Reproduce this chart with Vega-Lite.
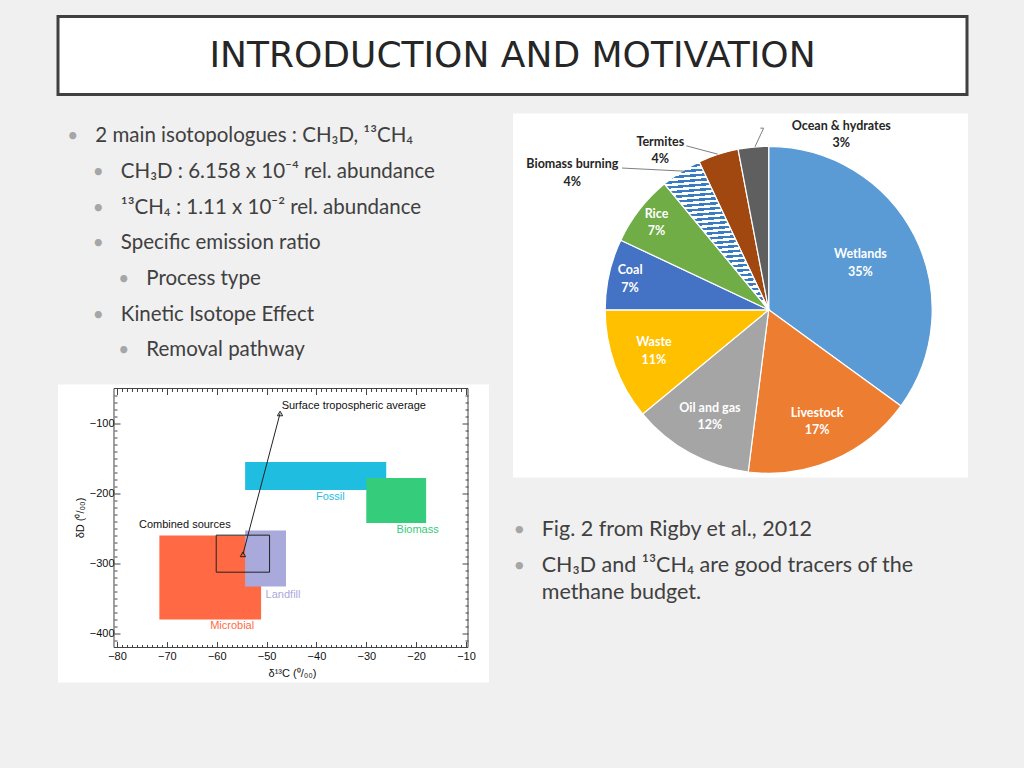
{
  "$schema": "https://vega.github.io/schema/vega-lite/v6.json",
  "background": "#f0f0f0",
  "padding": {"left": 56, "top": 14.5, "right": 57, "bottom": 86},
  "bounds": "flush",
  "spacing": 19,
  "resolve": {"scale": {"color": "independent"}},
  "config": {"view": {"stroke": null}},
  "datasets": {
    "leftText": [
      {"line": 1, "level": 1, "text": "2 main isotopologues : CH₃D, ¹³CH₄"},
      {"line": 2, "level": 2, "text": "CH₃D : 6.158 x 10⁻⁴ rel. abundance"},
      {"line": 3, "level": 2, "text": "¹³CH₄ : 1.11 x 10⁻² rel. abundance"},
      {"line": 4, "level": 2, "text": "Specific emission ratio"},
      {"line": 5, "level": 3, "text": "Process type"},
      {"line": 6, "level": 2, "text": "Kinetic Isotope Effect"},
      {"line": 7, "level": 3, "text": "Removal pathway"}
    ],
    "rightText": [
      {"line": 1, "level": 1, "text": "Fig. 2 from Rigby et al., 2012"},
      {"line": 2, "level": 1, "text": "CH₃D and ¹³CH₄ are good tracers of the\nmethane budget."}
    ],
    "regions": [
      {"source": "Fossil", "x1": -54.3, "x2": -26, "y1": -195, "y2": -155},
      {"source": "Biomass", "x1": -30, "x2": -18, "y1": -242, "y2": -178},
      {"source": "Microbial", "x1": -71.5, "x2": -51.1, "y1": -380, "y2": -260},
      {"source": "Landfill", "x1": -54.3, "x2": -46.1, "y1": -333, "y2": -253}
    ],
    "combined": [{"x1": -60.1, "x2": -49.4, "y1": -312.4, "y2": -259.5}],
    "track": [
      {"point": "Combined sources", "seq": 1, "x": -54.75, "y": -287},
      {"point": "Surface tropospheric average", "seq": 2, "x": -47.3, "y": -85.7}
    ],
    "scatterLabels": [
      {"label": "Surface tropospheric average", "x": -32.5, "y": -75.3},
      {"label": "Fossil", "x": -37.2, "y": -205.3},
      {"label": "Biomass", "x": -19.7, "y": -252.4},
      {"label": "Combined sources", "x": -66.4, "y": -245.3},
      {"label": "Landfill", "x": -46.7, "y": -344.3},
      {"label": "Microbial", "x": -56.9, "y": -389.6}
    ],
    "pie": [
      {"idx": 1, "source": "Wetlands", "share": 0.35},
      {"idx": 2, "source": "Livestock", "share": 0.17},
      {"idx": 3, "source": "Oil and gas", "share": 0.12},
      {"idx": 4, "source": "Waste", "share": 0.11},
      {"idx": 5, "source": "Coal", "share": 0.07},
      {"idx": 6, "source": "Rice", "share": 0.07},
      {"idx": 7, "source": "Biomass burning", "share": 0.04},
      {"idx": 8, "source": "Termites", "share": 0.04},
      {"idx": 9, "source": "Ocean & hydrates", "share": 0.03}
    ],
    "pieOuter": [
      {"source": "Ocean & hydrates", "share": 0.03, "x": 0.444, "y": 1.072},
      {"source": "Termites", "share": 0.04, "x": -0.663, "y": 0.974},
      {"source": "Biomass burning", "share": 0.04, "x": -1.201, "y": 0.837}
    ],
    "leaders": [
      {"leader": "ocean", "seq": 1, "x": -0.051, "y": 1.111},
      {"leader": "ocean", "seq": 2, "x": -0.031, "y": 1.111},
      {"leader": "ocean", "seq": 3, "x": -0.084, "y": 0.997},
      {"leader": "termites", "seq": 1, "x": -0.504, "y": 1.003},
      {"leader": "termites", "seq": 2, "x": -0.312, "y": 0.952},
      {"leader": "biomass", "seq": 1, "x": -0.897, "y": 0.867},
      {"leader": "biomass", "seq": 2, "x": -0.518, "y": 0.848}
    ]
  },
  "vconcat": [
    {
      "width": 909,
      "height": 78,
      "view": {"fill": "white", "stroke": "#404040", "strokeWidth": 3},
      "data": {"values": [{"title": "INTRODUCTION AND MOTIVATION"}]},
      "mark": {"type": "text", "font": "DejaVu Sans", "fontSize": 36, "color": "#262626", "baseline": "middle", "align": "center"},
      "encoding": {"text": {"field": "title"}}
    },
    {
      "resolve": {"scale": {"color": "independent"}},
      "hconcat": [
        {
          "resolve": {"scale": {"color": "independent"}},
          "vconcat": [
            {
              "width": 431,
              "height": 265,
              "data": {"name": "leftText"},
              "encoding": {
                "x": {"field": "level", "type": "quantitative", "scale": {"domain": [-0.463, 16.44], "nice": false, "zero": false}, "axis": null},
                "y": {"field": "line", "type": "quantitative", "scale": {"domain": [0.196, 7.619], "reverse": true, "nice": false, "zero": false}, "axis": null}
              },
              "layer": [
                {
                  "mark": {"type": "text", "align": "center", "baseline": "alphabetic", "dx": -22.5, "font": "Lato", "fontSize": 19, "color": "#a6a6a6"},
                  "encoding": {"text": {"value": "•"}}
                },
                {
                  "mark": {"type": "text", "align": "left", "baseline": "alphabetic", "font": "Lato", "fontSize": 20.5, "color": "#404040"},
                  "encoding": {"text": {"field": "text"}}
                }
              ]
            },
            {
              "width": 431,
              "height": 298,
              "view": {"fill": "white", "stroke": null},
              "resolve": {"axis": {"x": "independent", "y": "independent"}},
              "layer": [
                {
                  "data": {"name": "regions"},
                  "mark": {"type": "rect"},
                  "encoding": {
                    "x": {"field": "x1", "type": "quantitative", "scale": {"domain": [-91.83, -5.39], "nice": false, "zero": false},
                      "axis": {"orient": "bottom", "offset": -35, "domain": false, "grid": false,
                        "values": [-80,-79,-78,-77,-76,-75,-74,-73,-72,-71,-70,-69,-68,-67,-66,-65,-64,-63,-62,-61,-60,-59,-58,-57,-56,-55,-54,-53,-52,-51,-50,-49,-48,-47,-46,-45,-44,-43,-42,-41,-40,-39,-38,-37,-36,-35,-34,-33,-32,-31,-30,-29,-28,-27,-26,-25,-24,-23,-22,-21,-20,-19,-18,-17,-16,-15,-14,-13,-12,-11,-10],
                        "tickSize": {"condition": {"test": "datum.value % 10 === 0", "value": -6}, "value": -3},
                        "tickColor": "#444", "tickWidth": 1,
                        "labelExpr": "datum.value % 10 === 0 ? datum.label : ''",
                        "labelOverlap": false, "labelFlush": false,
                        "labelFont": "Liberation Sans", "labelFontSize": 11, "labelColor": "#111", "labelPadding": 9,
                        "title": "δ¹³C (⁰/₀₀)", "titleFont": "Liberation Sans", "titleFontSize": 11, "titleFontWeight": "normal", "titleColor": "#111", "titlePadding": 3, "titleX": 234, "zindex": 1}},
                    "x2": {"field": "x2"},
                    "y": {"field": "y1", "type": "quantitative", "scale": {"domain": [-470, -44.3], "nice": false, "zero": false},
                      "axis": {"orient": "left", "offset": -56, "domain": false, "grid": false,
                        "values": [-410,-400,-390,-380,-370,-360,-350,-340,-330,-320,-310,-300,-290,-280,-270,-260,-250,-240,-230,-220,-210,-200,-190,-180,-170,-160,-150,-140,-130,-120,-110,-100,-90,-80,-70,-60],
                        "tickSize": {"condition": {"test": "datum.value % 100 === 0", "value": -6}, "value": -3},
                        "tickColor": "#444", "tickWidth": 1,
                        "labelExpr": "datum.value % 100 === 0 ? datum.label : ''",
                        "labelOverlap": false, "labelFlush": false,
                        "labelFont": "Liberation Sans", "labelFontSize": 11, "labelColor": "#111", "labelPadding": 6,
                        "title": "δD (⁰/₀₀)", "titleFont": "Liberation Sans", "titleFontSize": 11, "titleFontWeight": "normal", "titleColor": "#111", "titlePadding": 4, "titleY": 133, "zindex": 1}},
                    "y2": {"field": "y2"},
                    "color": {"field": "source", "type": "nominal", "legend": null,
                      "scale": {"domain": ["Fossil", "Biomass", "Microbial", "Landfill", "Combined sources", "Surface tropospheric average"],
                        "range": ["#1fbde0", "#35cc7b", "#ff6a45", "#a9a9dc", "#111111", "#111111"]}}
                  }
                },
                {
                  "data": {"values": [{}]},
                  "mark": {"type": "rect", "filled": false, "stroke": "#444", "strokeWidth": 1},
                  "encoding": {
                    "x": {"datum": -80.6, "type": "quantitative",
                      "axis": {"orient": "top", "offset": -4, "domain": false, "grid": false, "labels": false, "title": null,
                        "values": [-80,-79,-78,-77,-76,-75,-74,-73,-72,-71,-70,-69,-68,-67,-66,-65,-64,-63,-62,-61,-60,-59,-58,-57,-56,-55,-54,-53,-52,-51,-50,-49,-48,-47,-46,-45,-44,-43,-42,-41,-40,-39,-38,-37,-36,-35,-34,-33,-32,-31,-30,-29,-28,-27,-26,-25,-24,-23,-22,-21,-20,-19,-18,-17,-16,-15,-14,-13,-12,-11,-10],
                        "tickSize": {"condition": {"test": "datum.value % 10 === 0", "value": -6}, "value": -3},
                        "tickColor": "#444", "tickWidth": 1, "zindex": 1}},
                    "x2": {"datum": -9.6},
                    "y": {"datum": -420, "type": "quantitative",
                      "axis": {"orient": "right", "offset": -21, "domain": false, "grid": false, "labels": false, "title": null,
                        "values": [-410,-400,-390,-380,-370,-360,-350,-340,-330,-320,-310,-300,-290,-280,-270,-260,-250,-240,-230,-220,-210,-200,-190,-180,-170,-160,-150,-140,-130,-120,-110,-100,-90,-80,-70,-60],
                        "tickSize": {"condition": {"test": "datum.value % 100 === 0", "value": -6}, "value": -3},
                        "tickColor": "#444", "tickWidth": 1, "zindex": 1}},
                    "y2": {"datum": -50}
                  }
                },
                {
                  "data": {"name": "combined"},
                  "mark": {"type": "rect", "filled": false, "stroke": "#222", "strokeWidth": 1},
                  "encoding": {
                    "x": {"field": "x1", "type": "quantitative", "axis": null},
                    "x2": {"field": "x2"},
                    "y": {"field": "y1", "type": "quantitative", "axis": null},
                    "y2": {"field": "y2"}
                  }
                },
                {
                  "data": {"name": "track"},
                  "mark": {"type": "line", "color": "#222", "strokeWidth": 1},
                  "encoding": {
                    "x": {"field": "x", "type": "quantitative", "axis": null},
                    "y": {"field": "y", "type": "quantitative", "axis": null},
                    "order": {"field": "seq"}
                  }
                },
                {
                  "data": {"name": "track"},
                  "mark": {"type": "point", "shape": "triangle-up", "filled": false, "size": 28, "color": "#222", "strokeWidth": 1, "opacity": 1},
                  "encoding": {
                    "x": {"field": "x", "type": "quantitative", "axis": null},
                    "y": {"field": "y", "type": "quantitative", "axis": null}
                  }
                },
                {
                  "data": {"name": "scatterLabels"},
                  "mark": {"type": "text", "font": "Liberation Sans", "fontSize": 11, "align": "center", "baseline": "middle"},
                  "encoding": {
                    "x": {"field": "x", "type": "quantitative", "axis": null},
                    "y": {"field": "y", "type": "quantitative", "axis": null},
                    "text": {"field": "label"},
                    "color": {"field": "label", "type": "nominal", "legend": null}
                  }
                }
              ]
            }
          ],
          "spacing": 6,
          "bounds": "flush"
        },
        {
          "resolve": {"scale": {"color": "independent"}},
          "vconcat": [
            {
              "width": 455,
              "height": 364,
              "view": {"fill": "white", "stroke": null},
              "layer": [
                {
                  "data": {"name": "pie"},
                  "mark": {"type": "arc", "outerRadius": 163.5, "stroke": "white", "strokeWidth": 1.2},
                  "encoding": {
                    "theta": {"field": "share", "type": "quantitative", "stack": true},
                    "order": {"field": "idx"},
                    "color": {"field": "source", "type": "nominal", "legend": null, "sort": null,
                      "scale": {"domain": ["Wetlands", "Livestock", "Oil and gas", "Waste", "Coal", "Rice", "Biomass burning", "Termites", "Ocean & hydrates"],
                        "range": ["#5b9bd5", "#ed7d31", "#a5a5a5", "#ffc000", "#4472c4", "#70ad47", "#9dc3e6", "#a0480f", "#5f5f5f"]}},
                    "x": {"datum": 0, "type": "quantitative", "scale": {"domain": [-1.5639, 1.219], "nice": false, "zero": false}, "axis": null},
                    "y": {"datum": 0, "type": "quantitative", "scale": {"domain": [-1.0257, 1.2006], "nice": false, "zero": false}, "axis": null}
                  }
                },
                {
                  "data": {"name": "pie"},
                  "mark": {"type": "arc", "outerRadius": 163.5, "stroke": "white", "strokeWidth": 1.2,
                    "fill": {"gradient": "linear", "x1": 0, "y1": 0, "x2": 0.06, "y2": 1, "stops": [
                      {"offset": 0, "color": "#3a7cc2"}, {"offset": 0.0167, "color": "#3a7cc2"},
                      {"offset": 0.0167, "color": "#ffffff"}, {"offset": 0.0333, "color": "#ffffff"},
                      {"offset": 0.0333, "color": "#3a7cc2"}, {"offset": 0.05, "color": "#3a7cc2"},
                      {"offset": 0.05, "color": "#ffffff"}, {"offset": 0.0667, "color": "#ffffff"},
                      {"offset": 0.0667, "color": "#3a7cc2"}, {"offset": 0.0833, "color": "#3a7cc2"},
                      {"offset": 0.0833, "color": "#ffffff"}, {"offset": 0.1, "color": "#ffffff"},
                      {"offset": 0.1, "color": "#3a7cc2"}, {"offset": 0.1167, "color": "#3a7cc2"},
                      {"offset": 0.1167, "color": "#ffffff"}, {"offset": 0.1333, "color": "#ffffff"},
                      {"offset": 0.1333, "color": "#3a7cc2"}, {"offset": 0.15, "color": "#3a7cc2"},
                      {"offset": 0.15, "color": "#ffffff"}, {"offset": 0.1667, "color": "#ffffff"},
                      {"offset": 0.1667, "color": "#3a7cc2"}, {"offset": 0.1833, "color": "#3a7cc2"},
                      {"offset": 0.1833, "color": "#ffffff"}, {"offset": 0.2, "color": "#ffffff"},
                      {"offset": 0.2, "color": "#3a7cc2"}, {"offset": 0.2167, "color": "#3a7cc2"},
                      {"offset": 0.2167, "color": "#ffffff"}, {"offset": 0.2333, "color": "#ffffff"},
                      {"offset": 0.2333, "color": "#3a7cc2"}, {"offset": 0.25, "color": "#3a7cc2"},
                      {"offset": 0.25, "color": "#ffffff"}, {"offset": 0.2667, "color": "#ffffff"},
                      {"offset": 0.2667, "color": "#3a7cc2"}, {"offset": 0.2833, "color": "#3a7cc2"},
                      {"offset": 0.2833, "color": "#ffffff"}, {"offset": 0.3, "color": "#ffffff"},
                      {"offset": 0.3, "color": "#3a7cc2"}, {"offset": 0.3167, "color": "#3a7cc2"},
                      {"offset": 0.3167, "color": "#ffffff"}, {"offset": 0.3333, "color": "#ffffff"},
                      {"offset": 0.3333, "color": "#3a7cc2"}, {"offset": 0.35, "color": "#3a7cc2"},
                      {"offset": 0.35, "color": "#ffffff"}, {"offset": 0.3667, "color": "#ffffff"},
                      {"offset": 0.3667, "color": "#3a7cc2"}, {"offset": 0.3833, "color": "#3a7cc2"},
                      {"offset": 0.3833, "color": "#ffffff"}, {"offset": 0.4, "color": "#ffffff"},
                      {"offset": 0.4, "color": "#3a7cc2"}, {"offset": 0.4167, "color": "#3a7cc2"},
                      {"offset": 0.4167, "color": "#ffffff"}, {"offset": 0.4333, "color": "#ffffff"},
                      {"offset": 0.4333, "color": "#3a7cc2"}, {"offset": 0.45, "color": "#3a7cc2"},
                      {"offset": 0.45, "color": "#ffffff"}, {"offset": 0.4667, "color": "#ffffff"},
                      {"offset": 0.4667, "color": "#3a7cc2"}, {"offset": 0.4833, "color": "#3a7cc2"},
                      {"offset": 0.4833, "color": "#ffffff"}, {"offset": 0.5, "color": "#ffffff"},
                      {"offset": 0.5, "color": "#3a7cc2"}, {"offset": 0.5167, "color": "#3a7cc2"},
                      {"offset": 0.5167, "color": "#ffffff"}, {"offset": 0.5333, "color": "#ffffff"},
                      {"offset": 0.5333, "color": "#3a7cc2"}, {"offset": 0.55, "color": "#3a7cc2"},
                      {"offset": 0.55, "color": "#ffffff"}, {"offset": 0.5667, "color": "#ffffff"},
                      {"offset": 0.5667, "color": "#3a7cc2"}, {"offset": 0.5833, "color": "#3a7cc2"},
                      {"offset": 0.5833, "color": "#ffffff"}, {"offset": 0.6, "color": "#ffffff"},
                      {"offset": 0.6, "color": "#3a7cc2"}, {"offset": 0.6167, "color": "#3a7cc2"},
                      {"offset": 0.6167, "color": "#ffffff"}, {"offset": 0.6333, "color": "#ffffff"},
                      {"offset": 0.6333, "color": "#3a7cc2"}, {"offset": 0.65, "color": "#3a7cc2"},
                      {"offset": 0.65, "color": "#ffffff"}, {"offset": 0.6667, "color": "#ffffff"},
                      {"offset": 0.6667, "color": "#3a7cc2"}, {"offset": 0.6833, "color": "#3a7cc2"},
                      {"offset": 0.6833, "color": "#ffffff"}, {"offset": 0.7, "color": "#ffffff"},
                      {"offset": 0.7, "color": "#3a7cc2"}, {"offset": 0.7167, "color": "#3a7cc2"},
                      {"offset": 0.7167, "color": "#ffffff"}, {"offset": 0.7333, "color": "#ffffff"},
                      {"offset": 0.7333, "color": "#3a7cc2"}, {"offset": 0.75, "color": "#3a7cc2"},
                      {"offset": 0.75, "color": "#ffffff"}, {"offset": 0.7667, "color": "#ffffff"},
                      {"offset": 0.7667, "color": "#3a7cc2"}, {"offset": 0.7833, "color": "#3a7cc2"},
                      {"offset": 0.7833, "color": "#ffffff"}, {"offset": 0.8, "color": "#ffffff"},
                      {"offset": 0.8, "color": "#3a7cc2"}, {"offset": 0.8167, "color": "#3a7cc2"},
                      {"offset": 0.8167, "color": "#ffffff"}, {"offset": 0.8333, "color": "#ffffff"},
                      {"offset": 0.8333, "color": "#3a7cc2"}, {"offset": 0.85, "color": "#3a7cc2"},
                      {"offset": 0.85, "color": "#ffffff"}, {"offset": 0.8667, "color": "#ffffff"},
                      {"offset": 0.8667, "color": "#3a7cc2"}, {"offset": 0.8833, "color": "#3a7cc2"},
                      {"offset": 0.8833, "color": "#ffffff"}, {"offset": 0.9, "color": "#ffffff"},
                      {"offset": 0.9, "color": "#3a7cc2"}, {"offset": 0.9167, "color": "#3a7cc2"},
                      {"offset": 0.9167, "color": "#ffffff"}, {"offset": 0.9333, "color": "#ffffff"},
                      {"offset": 0.9333, "color": "#3a7cc2"}, {"offset": 0.95, "color": "#3a7cc2"},
                      {"offset": 0.95, "color": "#ffffff"}, {"offset": 0.9667, "color": "#ffffff"},
                      {"offset": 0.9667, "color": "#3a7cc2"}, {"offset": 0.9833, "color": "#3a7cc2"},
                      {"offset": 0.9833, "color": "#ffffff"}, {"offset": 1, "color": "#ffffff"}
                    ]}},
                  "encoding": {
                    "theta": {"field": "share", "type": "quantitative", "stack": true},
                    "order": {"field": "idx"},
                    "detail": {"field": "source"},
                    "opacity": {"condition": {"test": "datum.source === 'Biomass burning'", "value": 1}, "value": 0},
                    "x": {"datum": 0, "type": "quantitative"},
                    "y": {"datum": 0, "type": "quantitative"}
                  }
                },
                {
                  "data": {"name": "pie"},
                  "mark": {"type": "text", "radius": 103, "dy": -8.7, "font": "Lato", "fontSize": 12.5, "fontWeight": "bold", "color": "white"},
                  "encoding": {
                    "theta": {"field": "share", "type": "quantitative", "stack": true},
                    "order": {"field": "idx"}, "detail": {"field": "source"},
                    "x": {"datum": 0, "type": "quantitative"}, "y": {"datum": 0, "type": "quantitative"},
                    "text": {"condition": {"test": "datum.share > 0.3", "field": "source"}, "value": ""}
                  }
                },
                {
                  "data": {"name": "pie"},
                  "mark": {"type": "text", "radius": 103, "dy": 8.7, "font": "Lato", "fontSize": 12.5, "fontWeight": "bold", "color": "white"},
                  "encoding": {
                    "theta": {"field": "share", "type": "quantitative", "stack": true},
                    "order": {"field": "idx"}, "detail": {"field": "source"},
                    "x": {"datum": 0, "type": "quantitative"}, "y": {"datum": 0, "type": "quantitative"},
                    "text": {"condition": {"test": "datum.share > 0.3", "field": "share", "type": "quantitative", "format": ".0%"}, "value": ""}
                  }
                },
                {
                  "data": {"name": "pie"},
                  "mark": {"type": "text", "radius": 122, "dy": -8.7, "font": "Lato", "fontSize": 12.5, "fontWeight": "bold", "color": "white"},
                  "encoding": {
                    "theta": {"field": "share", "type": "quantitative", "stack": true},
                    "order": {"field": "idx"}, "detail": {"field": "source"},
                    "x": {"datum": 0, "type": "quantitative"}, "y": {"datum": 0, "type": "quantitative"},
                    "text": {"condition": {"test": "datum.share > 0.09 && datum.share < 0.3", "field": "source"}, "value": ""}
                  }
                },
                {
                  "data": {"name": "pie"},
                  "mark": {"type": "text", "radius": 122, "dy": 8.7, "font": "Lato", "fontSize": 12.5, "fontWeight": "bold", "color": "white"},
                  "encoding": {
                    "theta": {"field": "share", "type": "quantitative", "stack": true},
                    "order": {"field": "idx"}, "detail": {"field": "source"},
                    "x": {"datum": 0, "type": "quantitative"}, "y": {"datum": 0, "type": "quantitative"},
                    "text": {"condition": {"test": "datum.share > 0.09 && datum.share < 0.3", "field": "share", "type": "quantitative", "format": ".0%"}, "value": ""}
                  }
                },
                {
                  "data": {"name": "pie"},
                  "mark": {"type": "text", "radius": 142, "dy": -8.7, "font": "Lato", "fontSize": 12.5, "fontWeight": "bold", "color": "white"},
                  "encoding": {
                    "theta": {"field": "share", "type": "quantitative", "stack": true},
                    "order": {"field": "idx"}, "detail": {"field": "source"},
                    "x": {"datum": 0, "type": "quantitative"}, "y": {"datum": 0, "type": "quantitative"},
                    "text": {"condition": {"test": "datum.share > 0.05 && datum.share < 0.09", "field": "source"}, "value": ""}
                  }
                },
                {
                  "data": {"name": "pie"},
                  "mark": {"type": "text", "radius": 142, "dy": 8.7, "font": "Lato", "fontSize": 12.5, "fontWeight": "bold", "color": "white"},
                  "encoding": {
                    "theta": {"field": "share", "type": "quantitative", "stack": true},
                    "order": {"field": "idx"}, "detail": {"field": "source"},
                    "x": {"datum": 0, "type": "quantitative"}, "y": {"datum": 0, "type": "quantitative"},
                    "text": {"condition": {"test": "datum.share > 0.05 && datum.share < 0.09", "field": "share", "type": "quantitative", "format": ".0%"}, "value": ""}
                  }
                },
                {
                  "data": {"name": "leaders"},
                  "mark": {"type": "line", "color": "#7f7f7f", "strokeWidth": 1},
                  "encoding": {
                    "x": {"field": "x", "type": "quantitative"},
                    "y": {"field": "y", "type": "quantitative"},
                    "detail": {"field": "leader"},
                    "order": {"field": "seq"}
                  }
                },
                {
                  "data": {"name": "pieOuter"},
                  "mark": {"type": "text", "dy": -8.7, "font": "Lato", "fontSize": 12.5, "fontWeight": "bold", "color": "#262626"},
                  "encoding": {
                    "x": {"field": "x", "type": "quantitative"},
                    "y": {"field": "y", "type": "quantitative"},
                    "text": {"field": "source"}
                  }
                },
                {
                  "data": {"name": "pieOuter"},
                  "mark": {"type": "text", "dy": 8.7, "font": "Lato", "fontSize": 12.5, "fontWeight": "bold", "color": "#262626"},
                  "encoding": {
                    "x": {"field": "x", "type": "quantitative"},
                    "y": {"field": "y", "type": "quantitative"},
                    "text": {"field": "share", "type": "quantitative", "format": ".0%"}
                  }
                }
              ]
            },
            {
              "width": 455,
              "height": 150,
              "data": {"name": "rightText"},
              "encoding": {
                "x": {"field": "level", "type": "quantitative", "scale": {"domain": [-0.1255, 17.718], "nice": false, "zero": false}, "axis": null},
                "y": {"field": "line", "type": "quantitative", "scale": {"domain": [-0.314, 3.971], "reverse": true, "nice": false, "zero": false}, "axis": null}
              },
              "layer": [
                {
                  "mark": {"type": "text", "align": "center", "baseline": "alphabetic", "dx": -22.4, "font": "Lato", "fontSize": 20, "color": "#a6a6a6"},
                  "encoding": {"text": {"value": "•"}}
                },
                {
                  "mark": {"type": "text", "align": "left", "baseline": "alphabetic", "font": "Lato", "fontSize": 21.5, "color": "#404040", "lineBreak": "\n", "lineHeight": 27.3},
                  "encoding": {"text": {"field": "text"}}
                }
              ]
            }
          ],
          "spacing": 13,
          "bounds": "flush"
        }
      ],
      "spacing": 24,
      "bounds": "full"
    }
  ]
}
